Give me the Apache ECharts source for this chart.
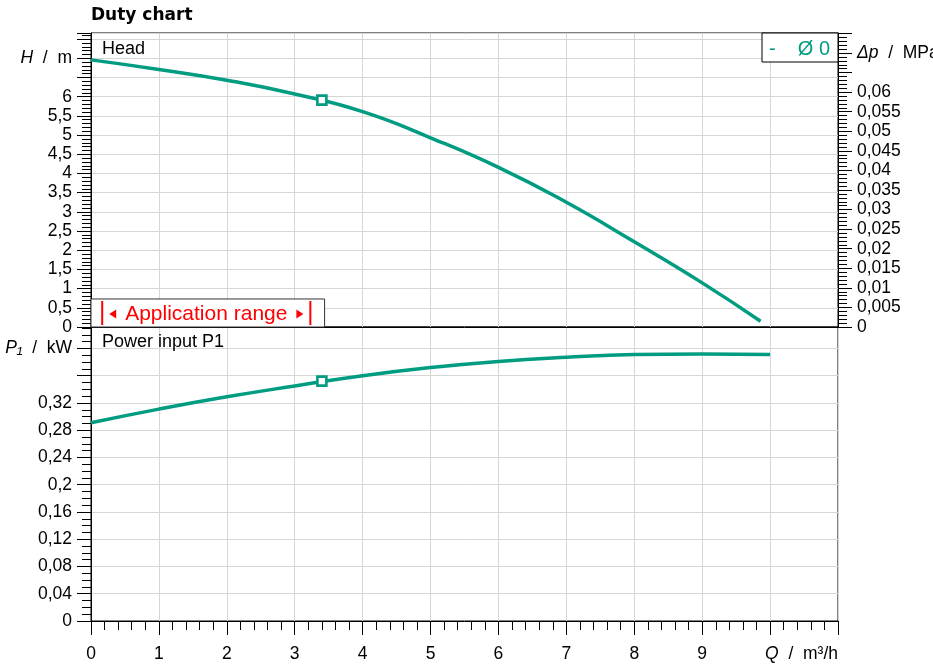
<!DOCTYPE html>
<html><head><meta charset="utf-8">
<script src="https://cdn.jsdelivr.net/npm/echarts@6/dist/echarts.min.js"></script>
<style>html,body{margin:0;padding:0;background:#fff}#c{width:933px;height:665px}</style>
</head><body><div id="c"></div>
<script>
// ---- data ----
const headQ  = [0, 1, 2, 3, 4, 5, 6, 7, 8, 9, 9.86];
const headH  = [6.96, 6.71, 6.43, 6.07, 5.61, 4.93, 4.16, 3.25, 2.22, 1.15, 0.15];
const powerQ = [0, 1, 2, 3, 4, 5, 6, 7, 8, 9, 10];
const powerP = [0.291, 0.311, 0.329, 0.345, 0.360, 0.372, 0.381, 0.387, 0.391, 0.392, 0.391];
const dutyQ  = [3.4];
const dutyH  = [5.91];
const dutyP  = [0.352];
const qTickLabels = ['0','1','2','3','4','5','6','7','8','9'];
const appRangeQ = [0.165, 3.23];   // red limit bars of the application range
const appBoxQ = 3.44, appBoxH = 0.73;
const legendText = 'Ø 0';

const Q_MAX = 11, H_MAX = 7.66, P_MAX = 0.4315;
const MPA_PER_M = 0.00980665;
const DP_MAX = H_MAX * MPA_PER_M;

const FONT = '"Liberation Sans", Arial, sans-serif';
const TEAL = '#009c82';
const GRIDC = '#d6d6d6';
const near = (a, b) => Math.abs(a - b) < 1e-6;
function fmt(v){ return String(parseFloat(v.toFixed(4))).replace('.', ','); }
const FS = 17.5;
const rich = {
  i: {fontStyle:'italic', fontFamily:FONT, fontSize:FS, color:'#000'},
  n: {fontFamily:FONT, fontSize:FS, color:'#000'}
};
const zip = (a, b) => a.map((x, i) => [x, b[i]]);

const chart = echarts.init(document.getElementById('c'), null, {renderer:'canvas'});
const tickStyle = {color:'#000', width:1};
const baseLabel = {fontFamily:FONT, fontSize:FS, color:'#000'};

const option = {
  animation:false,
  backgroundColor:'#fff',
  grid:[
    {left:91, top:33, width:747, height:294, show:true, borderColor:'#000', borderWidth:1, outerBoundsMode:'none'},
    {left:91, top:327, width:747, height:294, show:true, borderColor:'#000', borderWidth:1, outerBoundsMode:'none'}
  ],
  xAxis:[
    {gridIndex:0, type:'value', min:0, max:Q_MAX, interval:1,
     axisLine:{show:true, onZero:false, lineStyle:{color:'#000'}}, axisTick:{show:false}, axisLabel:{show:false},
     splitLine:{show:true, lineStyle:{color:GRIDC}}},
    {gridIndex:1, type:'value', min:0, max:Q_MAX, interval:1,
     axisLine:{show:true, onZero:false, lineStyle:{color:'#000'}},
     axisTick:{show:true, length:14, lineStyle:tickStyle},
     minorTick:{show:true, splitNumber:5, length:9, lineStyle:tickStyle},
     axisLabel:Object.assign({margin:24, formatter:v => { const k = Math.round(v); return (near(v,k) && k < qTickLabels.length) ? qTickLabels[k] : ''; }}, baseLabel),
     splitLine:{show:true, lineStyle:{color:GRIDC}}}
  ],
  yAxis:[
    {gridIndex:0, type:'value', min:0, max:H_MAX, interval:0.5, position:'left',
     axisLine:{show:true, onZero:false, lineStyle:{color:'#000'}},
     axisTick:{show:true, length:14, lineStyle:tickStyle},
     minorTick:{show:true, splitNumber:5, length:9, lineStyle:tickStyle},
     axisLabel:Object.assign({margin:19, rich:rich, formatter:v => near(v,7) ? '{i|H}{n|  /  m}' : (v > 6.01 ? '' : fmt(v))}, baseLabel),
     splitLine:{show:true, lineStyle:{color:GRIDC}}},
    {gridIndex:0, type:'value', min:0, max:DP_MAX, interval:0.005, position:'right',
     axisLine:{show:true, onZero:false, lineStyle:{color:'#000'}},
     axisTick:{show:true, length:14, lineStyle:tickStyle},
     minorTick:{show:true, splitNumber:5, length:9, lineStyle:tickStyle},
     axisLabel:Object.assign({margin:19, rich:rich, formatter:v => near(v,0.07) ? '{i|Δp}{n|  /  MPa}' : (v > 0.0601 ? '' : fmt(v))}, baseLabel),
     splitLine:{show:false}},
    {gridIndex:1, type:'value', min:0, max:P_MAX, interval:0.04, position:'left',
     axisLine:{show:true, onZero:false, lineStyle:{color:'#000'}},
     axisTick:{show:true, length:14, lineStyle:tickStyle},
     minorTick:{show:true, splitNumber:4, length:9, lineStyle:tickStyle},
     axisLabel:Object.assign({margin:19, rich:rich, formatter:v => near(v,0.4) ? '{i|P₁}{n|  /  kW}' : (v > 0.3401 ? '' : fmt(v))}, baseLabel),
     splitLine:{show:true, lineStyle:{color:GRIDC}}}
  ],
  series:[
    {type:'line', name:'Head', xAxisIndex:0, yAxisIndex:0, data:zip(headQ, headH), smooth:0.5,
     showSymbol:false, symbol:'none', lineStyle:{color:TEAL, width:3.5}, z:5},
    {type:'line', name:'Power input P1', xAxisIndex:1, yAxisIndex:2, data:zip(powerQ, powerP), smooth:0.5,
     showSymbol:false, symbol:'none', lineStyle:{color:TEAL, width:3.5}, z:5},
    {type:'scatter', xAxisIndex:0, yAxisIndex:0, data:zip(dutyQ, dutyH), symbol:'rect', symbolSize:9,
     itemStyle:{color:'#fff', borderColor:TEAL, borderWidth:2.6, opacity:1}, z:10},
    {type:'scatter', xAxisIndex:1, yAxisIndex:2, data:zip(dutyQ, dutyP), symbol:'rect', symbolSize:9,
     itemStyle:{color:'#fff', borderColor:TEAL, borderWidth:2.6, opacity:1}, z:10}
  ]
};
chart.setOption(option);

// ---- annotations ----
const p0 = (q, h) => chart.convertToPixel({gridIndex:0}, [q, h]);
const p1 = (q, v) => chart.convertToPixel({gridIndex:1}, [q, v]);
const tl = p0(0, H_MAX), br = p0(Q_MAX, 0);
const b1 = p1(Q_MAX, 0);
const boxTL = p0(0, appBoxH), boxBR = p0(appBoxQ, 0);
const rA = p0(appRangeQ[0], 0), rB = p0(appRangeQ[1], 0);
const midY = (boxTL[1] + boxBR[1]) / 2;
const RED = '#ff0000';

chart.setOption({graphic:[
  {type:'text', z:100, style:{text:'Duty chart', x:tl[0], y:16, verticalAlign:'middle', font:'bold 17px "DejaVu Sans", Verdana, sans-serif', fill:'#000'}},
  {type:'text', z:100, style:{text:'Head', x:tl[0]+11, y:tl[1]+16, verticalAlign:'middle', font:'18px '+FONT, fill:'#000'}},
  {type:'text', z:100, style:{text:'Power input P1', x:tl[0]+11, y:br[1]+15.5, verticalAlign:'middle', font:'18px '+FONT, fill:'#000'}},
  // legend box
  {type:'rect', z:100, shape:{x:br[0]-76, y:tl[1], width:76, height:29}, style:{fill:'#fff', stroke:'#000', lineWidth:1}},
  {type:'text', z:101, style:{text:'-', x:br[0]-69, y:tl[1]+16, verticalAlign:'middle', font:'20px '+FONT, fill:TEAL}},
  {type:'text', z:101, style:{text:legendText, x:br[0]-8, y:tl[1]+16, align:'right', verticalAlign:'middle', font:'20px '+FONT, fill:TEAL}},
  // application range box
  {type:'rect', z:100, shape:{x:boxTL[0], y:boxTL[1], width:boxBR[0]-boxTL[0], height:boxBR[1]-boxTL[1]}, style:{fill:'#fff', stroke:'#333', lineWidth:1}},
  {type:'line', z:101, shape:{x1:rA[0], y1:boxTL[1]+2, x2:rA[0], y2:boxBR[1]-2}, style:{stroke:RED, lineWidth:2}},
  {type:'line', z:101, shape:{x1:rB[0], y1:boxTL[1]+2, x2:rB[0], y2:boxBR[1]-2}, style:{stroke:RED, lineWidth:2}},
  {type:'polygon', z:101, shape:{points:[[rA[0]+7, midY+1],[rA[0]+14, midY-3.5],[rA[0]+14, midY+5.5]]}, style:{fill:RED}},
  {type:'polygon', z:101, shape:{points:[[rB[0]-7, midY+1],[rB[0]-14, midY-3.5],[rB[0]-14, midY+5.5]]}, style:{fill:RED}},
  {type:'text', z:101, style:{text:'Application range', x:(rA[0]+rB[0])/2, y:midY+1.5, align:'center', verticalAlign:'middle', font:'21px '+FONT, fill:RED}},
  // x-axis name
  {type:'text', z:100, style:{text:'{i|Q}{n|  /  m³/h}', rich:rich, x:b1[0], y:b1[1]+33, align:'right', verticalAlign:'middle'}}
]});
</script>
</body></html>
